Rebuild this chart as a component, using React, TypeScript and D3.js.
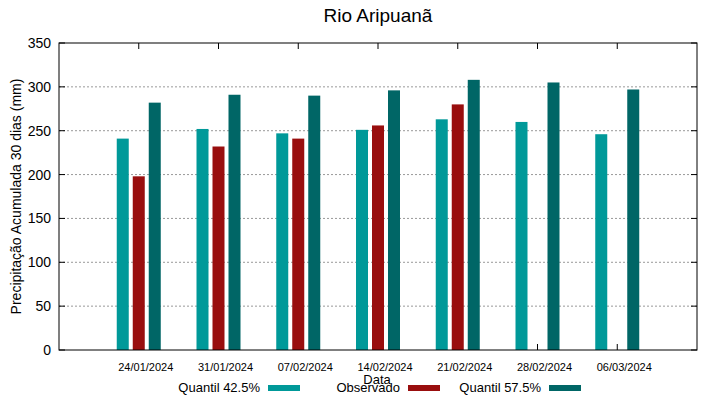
import React from "react";
import * as d3 from "d3";

const categories = ["24/01/2024", "31/01/2024", "07/02/2024", "14/02/2024", "21/02/2024", "28/02/2024", "06/03/2024"];
const quantil425 = [241, 252, 247, 251, 263, 260, 246];
const observado: (number | null)[] = [198, 232, 241, 256, 280, null, null];
const quantil575 = [282, 291, 290, 296, 308, 305, 297];
const yTicks = [0, 50, 100, 150, 200, 250, 300, 350];

const W = 719, H = 399;
const left = 59, right = 697, top = 43, bottom = 350;

const series = [
  { name: "Quantil 42.5%", values: quantil425 as (number | null)[], color: "#009999", offset: -16 },
  { name: "Observado", values: observado, color: "#990e0e", offset: 0 },
  { name: "Quantil 57.5%", values: quantil575 as (number | null)[], color: "#006666", offset: 16 },
];

export default function App() {
  const x = d3.scaleLinear().domain([-1, categories.length]).range([left, right]);
  const y = d3.scaleLinear().domain([0, 350]).range([bottom, top]);
  const barW = 12;
  const legend = [
    { textEnd: 260, sw: 268 },
    { textEnd: 400, sw: 408 },
    { textEnd: 541, sw: 549 },
  ];
  return (
    <svg width={W} height={H} style={{ position: "absolute", left: 0, top: 0, background: "#fff" }} fontFamily="Liberation Sans, Arial, sans-serif">
      <text x={378} y={22} textAnchor="middle" fontSize={19} fill="#000">Rio Aripuanã</text>
      {yTicks.map((t) => (
        <g key={t}>
          {t > 0 && t < 350 && (
            <line x1={left} x2={right} y1={y(t)} y2={y(t)} stroke="#999" strokeDasharray="2,2" strokeWidth={1} />
          )}
          <line x1={left} x2={left + 6} y1={y(t)} y2={y(t)} stroke="#000" />
          <line x1={right - 6} x2={right} y1={y(t)} y2={y(t)} stroke="#000" />
          <text x={left - 8} y={y(t) + 5} textAnchor="end" fontSize={14} fill="#000">{t}</text>
        </g>
      ))}
      {categories.map((c, i) => (
        <g key={c}>
          <line x1={x(i)} x2={x(i)} y1={bottom} y2={bottom - 6} stroke="#000" />
          <line x1={x(i)} x2={x(i)} y1={top} y2={top + 6} stroke="#000" />
          <text x={x(i) + 7} y={371} textAnchor="middle" fontSize={11} fill="#000">{c}</text>
        </g>
      ))}
      {series.map((s) =>
        s.values.map((v, i) =>
          v == null ? null : (
            <rect key={s.name + i} x={x(i) + s.offset - barW / 2} y={y(v)} width={barW} height={bottom - y(v)} fill={s.color} />
          )
        )
      )}
      <rect x={left} y={top} width={right - left} height={bottom - top} fill="none" stroke="#000" strokeWidth={1} />
      <text x={0} y={0} transform={`translate(21,${(top + bottom) / 2}) rotate(-90)`} textAnchor="middle" fontSize={14} fill="#000">Precipitação Acumulada 30 dias (mm)</text>
      <text x={377} y={384} textAnchor="middle" fontSize={13} fill="#000">Data</text>
      {series.map((s, k) => (
        <g key={s.name}>
          <text x={legend[k].textEnd} y={392} textAnchor="end" fontSize={13} fill="#000">{s.name}</text>
          <rect x={legend[k].sw} y={385} width={32} height={6} fill={s.color} />
        </g>
      ))}
    </svg>
  );
}
